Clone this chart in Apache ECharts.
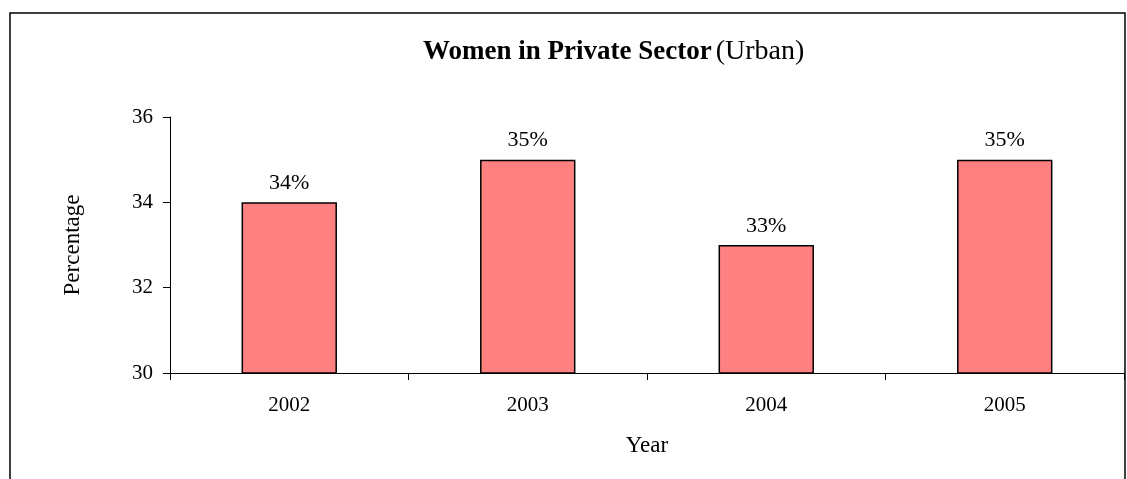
<!DOCTYPE html>
<html>
<head>
<meta charset="utf-8">
<script src="https://cdn.jsdelivr.net/npm/echarts@6/dist/echarts.min.js"></script>
<style>
  html, body { margin: 0; padding: 0; background: #fff; }
  #chart { width: 1127px; height: 479px; }
</style>
</head>
<body>
<div id="chart"></div>
<script>
// data
var years = ['2002', '2003', '2004', '2005'];
var shares = [34, 35, 33, 35];
var yTicks = [30, 32, 34, 36];

var myChart = echarts.init(document.getElementById('chart'));
var serif = '"Liberation Serif", "DejaVu Serif", serif';

myChart.setOption({
    animation: false,
    textStyle: { fontFamily: serif },
    title: {
        text: '{b|Women in Private Sector}{n|(Urban)}',
        left: 418,
        top: 33,
        textStyle: {
            rich: {
                b: { fontFamily: serif, fontWeight: 'bold', fontSize: 27, color: '#000', padding: [0, 4, 0, 0] },
                n: { fontFamily: serif, fontWeight: 'normal', fontSize: 28, color: '#000' }
            }
        }
    },
    // outer frame of the chart
    graphic: [{
        type: 'rect',
        shape: { x: 10, y: 13, width: 1115, height: 480 },
        style: { fill: 'none', stroke: '#000', lineWidth: 1.5 },
        silent: true
    }],
    grid: { left: 170, right: 3, top: 117, bottom: 106 },
    xAxis: {
        type: 'category',
        data: years,
        name: 'Year',
        nameLocation: 'middle',
        nameGap: 61,
        nameTextStyle: { fontFamily: serif, fontSize: 23, color: '#000' },
        axisLine: { lineStyle: { color: '#000', width: 1 } },
        axisTick: { show: true, alignWithLabel: false, length: 7, lineStyle: { color: '#000' } },
        axisLabel: { fontFamily: serif, fontSize: 21, color: '#000', margin: 22 }
    },
    yAxis: {
        type: 'value',
        min: yTicks[0],
        max: yTicks[yTicks.length - 1],
        interval: 2,
        name: 'Percentage',
        nameLocation: 'middle',
        nameGap: 86,
        nameTextStyle: { fontFamily: serif, fontSize: 23, color: '#000' },
        axisLine: { show: true, lineStyle: { color: '#000', width: 1 } },
        axisTick: { show: true, inside: false, length: 7, lineStyle: { color: '#000' } },
        axisLabel: { fontFamily: serif, fontSize: 21, color: '#000', margin: 17 },
        splitLine: { show: false }
    },
    series: [{
        type: 'bar',
        data: shares,
        barWidth: '40%',
        itemStyle: { color: '#FF8080', borderColor: '#000', borderWidth: 1.5 },
        label: {
            show: true,
            position: 'top',
            distance: 8,
            formatter: '{c}%',
            fontFamily: serif,
            fontSize: 22,
            color: '#000'
        }
    }]
});
</script>
</body>
</html>
